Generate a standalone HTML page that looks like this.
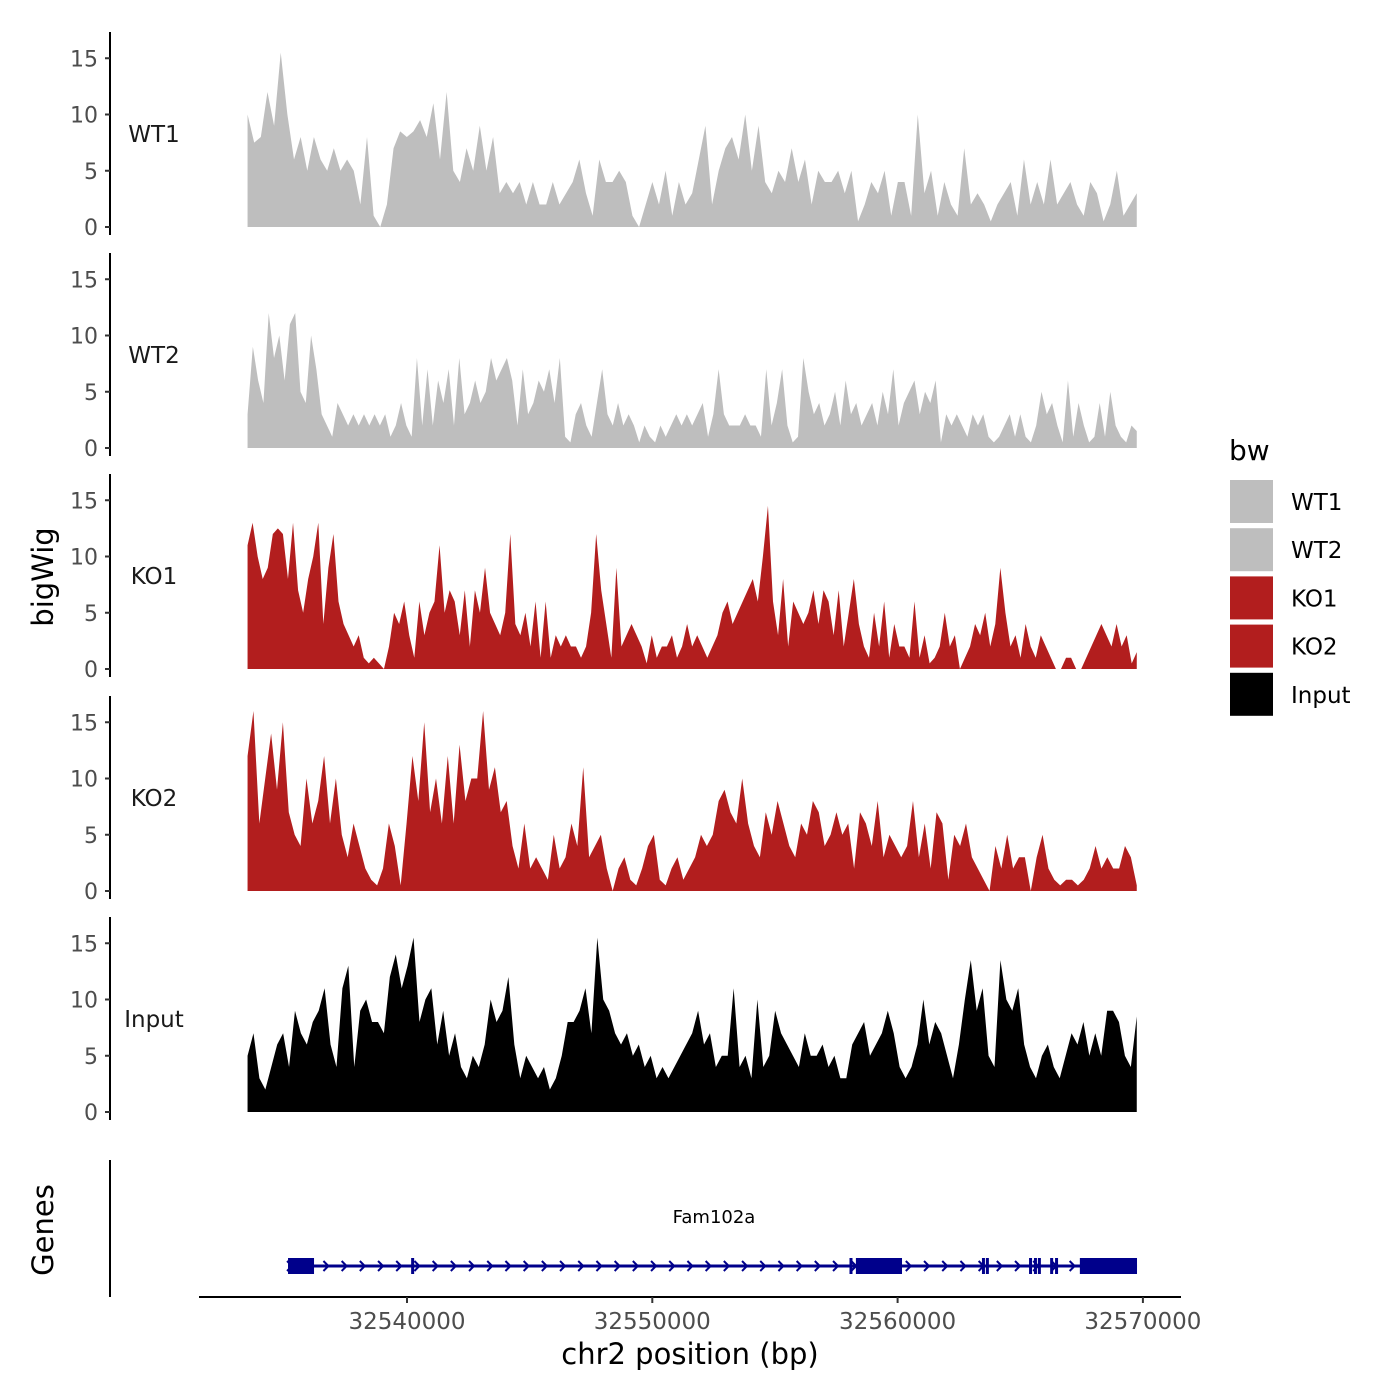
<!DOCTYPE html>
<html><head><meta charset="utf-8"><style>
body{margin:0;background:#fff}
svg{display:block;font-family:"DejaVu Sans","Liberation Sans",sans-serif}
</style></head><body>
<svg id="chart" width="1400" height="1400" viewBox="0 0 1400 1400" xmlns="http://www.w3.org/2000/svg"></svg>
<script>
const trackNames = ["WT1","WT2","KO1","KO2","Input"];
const trackColors = ["#bebebe","#bebebe","#b21e1e","#b21e1e","#000000"];
const yTicks = [0,5,10,15];
const xTicks = [32540000,32550000,32560000,32570000];
const regionStart = 32533500, regionEnd = 32569750;
const wt1 = [10,7.5,8,12,9,15.5,10,6,8,5,8,6,5,7,5,6,5,2,8,1,0,2,7,8.5,8,8.5,9.5,8,11,6,12,5,4,7,5,9,5,8,3,4,3,4,2,4,2,2,4,2,3,4,6,3,1,6,4,4,5,4,1,0,2,4,2,5,1,4,2,3,6,9,2,5,7,8,6,10,5,9,4,3,5,4,7,4,6,2,5,4,4,5,3,5,0.5,2,4,3,5,1,4,4,1,10,3,5,1,4,2,1,7,2,3,2,0.5,2,3,4,1,6,2,4,2,6,2,3,4,2,1,4,3,0.5,2,5,1,2,3];
const wt2 = [3,9,6,4,12,8,10,6,11,12,5,4,10,7,3,2,1,4,3,2,3,2,3,2,3,2,3,1,2,4,2,1,8,2,7,2,6,4,7,2,8,3,4,6,4,5,8,6,7,8,6,2,7,3,4,6,5,7,4,8,1,0.5,3,4,2,1,4,7,3,2,4,2,3,2,0.5,2,1,0.5,2,1,2,3,2,3,2,3,4,1,3,7,3,2,2,2,3,2,2,1,7,2,4,7,2,0.5,1,8,5,3,4,2,3,5,2,6,3,4,2,3,4,2,5,3,7,2,4,5,6,3,5,4,6,0.5,3,2,3,2,1,3,2,3,1,0.5,1,2,3,1,3,1,0.5,2,5,3,4,2,0.5,6,1,4,2,0.5,1,4,1,5,2,1,0.5,2,1.5];
const ko1 = [11,13,10,8,9,12,12.5,12,8,13,7,5,8,10,13,4,9,12,6,4,3,2,3,1,0.5,1,0.5,0,2,5,4,6,3,1,6,3,5,6,11,5,7,6,3,7,2,7,5,9,5,4,3,5,12,4,3,5,2,6,1,6,1,3,2,3,2,2,1,2,5,12,7,4,1,9,2,3,4,3,2,0.5,3,1,2,2,3,1,2,4,2,3,2,1,2,3,5,6,4,5,6,7,8,6,10,14.5,6,3,8,2,6,5,4,5,7,4,7,6,3,7,2,5,8,4,2,1,5,2,6,1,4,2,2,1,6,1,3,0.5,1,2,5,2,3,0,1,2,4,3,5,2,4,9,5,2,3,1,4,2,1,3,2,1,0,0,1,1,0,0,1,2,3,4,3,2,4,2,3,0.5,1.5];
const ko2 = [12,16,6,10,14,9,15,7,5,4,10,6,8,12,6,10,5,3,6,4,2,1,0.5,2,6,4,0.5,6,12,8,15,7,10,6,12,6,13,8,10,10,16,9,11,7,8,4,2,6,2,3,2,1,5,2,3,6,4,11,3,4,5,2,0,2,3,1,0.5,2,4,5,1,0.5,2,3,1,2,3,5,4,5,8,9,7,6,10,6,4,3,7,5,8,6,4,3,6,5,8,7,4,5,7,5,6,2,7,6,4,8,3,5,4,3,4,8,3,6,2,7,6,1,5,4,6,3,2,1,0,4,2,5,2,3,3,0,3,5,2,1,0.5,1,1,0.5,1,2,4,2,3,2,2,4,3,0.5];
const input = [5,7,3,2,4,6,7,4,9,7,6,8,9,11,6,4,11,13,4,9,10,8,8,7,12,14,11,13,15.5,8,10,11,6,9,5,7,4,3,5,4,6,10,8,9,12,6,3,5,4,3,4,2,3,5,8,8,9,11,7,15.5,10,9,7,6,7,5,6,4,5,3,4,3,4,5,6,7,9,6,7,4,5,5,11,4,5,3,10,4,5,9,7,6,5,4,7,5,5,6,4,5,3,3,6,7,8,5,6,7,9,7,4,3,4,6,10,6,8,7,5,3,6,10,13.5,9,11,5,4,13.5,10,9,11,6,4,3,5,6,4,3,5,7,6,8,5,7,5,9,9,8,5,4,8.5];
const trackValues = [wt1,wt2,ko1,ko2,input];
const geneStart = 32535150, geneEnd = 32569760;
const exonStarts = [32535150,32558300,32567430];
const exonEnds = [32536210,32560180,32569760];
const smallExons = [32540230,32558100,32563500,32563660,32565420,32565620,32565780,32566280,32566480];

const NS="http://www.w3.org/2000/svg";
const svg=document.getElementById('chart');
function mk(tag,attrs,parent){const e=document.createElementNS(NS,tag);for(const k in attrs)e.setAttribute(k,attrs[k]);(parent||svg).appendChild(e);return e;}
function xScale(bp){return 407+(bp-32540000)*(245.3/10000);}
const zeros=[227,448,669,891,1112];
const pxPerUnit=11.25;

trackNames.forEach((name,t)=>{
  const z=zeros[t];
  const g=mk('g',{});
  
  
  const vals=trackValues[t];
  const n=vals.length;
  let d='M'+xScale(regionStart)+','+z;
  vals.forEach((v,i)=>{const bp=regionStart+(regionEnd-regionStart)*i/(n-1);d+=' L'+xScale(bp).toFixed(2)+','+(z-v*pxPerUnit).toFixed(2);});
  d+=' L'+xScale(regionEnd)+','+z+' Z';
  const p=mk('path',{d:d,fill:trackColors[t]},g);
  
  
  const ax=mk('line',{x1:110,x2:110,y1:z-195,y2:z+8,stroke:'#000','stroke-width':2},g);
  
  
  yTicks.forEach(v=>{
    const y=z-v*pxPerUnit;
    mk('line',{x1:105,x2:110,y1:y,y2:y,stroke:'#333','stroke-width':2},g);
    const tx=mk('text',{x:98,y:y+8,'text-anchor':'end','font-size':22,fill:'#4d4d4d'},g);
    tx.textContent=v;
    
    
  });
  const lb=mk('text',{x:154,y:z-85,'text-anchor':'middle','font-size':23,fill:'#1a1a1a'},g);
  lb.textContent=name;
  
  
});

const yt=mk('text',{x:0,y:0,'font-size':29,'text-anchor':'middle',transform:'translate(53,577) rotate(-90)'});
yt.textContent='bigWig';


const gt=mk('text',{x:0,y:0,'font-size':29,'text-anchor':'middle',transform:'translate(53,1230) rotate(-90)'});
gt.textContent='Genes';



const ga=mk('line',{x1:110,x2:110,y1:1160,y2:1297,stroke:'#000','stroke-width':2});


const gg=mk('g',{});


const gy=1266;
mk('line',{x1:xScale(geneStart),x2:xScale(geneEnd),y1:gy,y2:gy,stroke:'#00008b','stroke-width':3},gg);
for(let x=xScale(geneStart)+2;x<xScale(geneEnd)-8;x+=18.2){
  mk('path',{d:`M${x-3},${gy-5} L${x+2},${gy} L${x-3},${gy+5}`,fill:'none',stroke:'#00008b','stroke-width':2},gg);
}
smallExons.forEach(b=>{const x=xScale(b);mk('rect',{x:x-1.5,y:gy-8,width:3,height:16,fill:'#00008b'},gg);});
exonStarts.forEach((s,i)=>{mk('rect',{x:xScale(s),y:gy-8,width:xScale(exonEnds[i])-xScale(s),height:16,fill:'#00008b'},gg);});
const gl=mk('text',{x:714,y:1223,'text-anchor':'middle','font-size':18,fill:'#000'});
gl.textContent='Fam102a';



const xa=mk('line',{x1:199,x2:1181,y1:1297,y2:1297,stroke:'#000','stroke-width':2});


xTicks.forEach(b=>{
  const x=xScale(b);
  mk('line',{x1:x,x2:x,y1:1297,y2:1303,stroke:'#333','stroke-width':2});
  const t=mk('text',{x:x,y:1329,'text-anchor':'middle','font-size':23,fill:'#4d4d4d'});
  t.textContent=b;
  
  
});
const xt=mk('text',{x:690,y:1364,'text-anchor':'middle','font-size':29,fill:'#000'});
xt.textContent='chr2 position (bp)';



const lg=mk('g',{});


const lt=mk('text',{x:1229,y:460,'font-size':28,fill:'#000'},lg);
lt.textContent='bw';


trackNames.forEach((name,i)=>{
  const y=480+i*48.2;
  const r=mk('rect',{x:1230,y:y,width:43,height:43,fill:trackColors[i]},lg);
  
  
  const t=mk('text',{x:1291,y:y+30,'font-size':23,fill:'#000'},lg);
  t.textContent=name;
  
  
});
</script>
</body></html>
